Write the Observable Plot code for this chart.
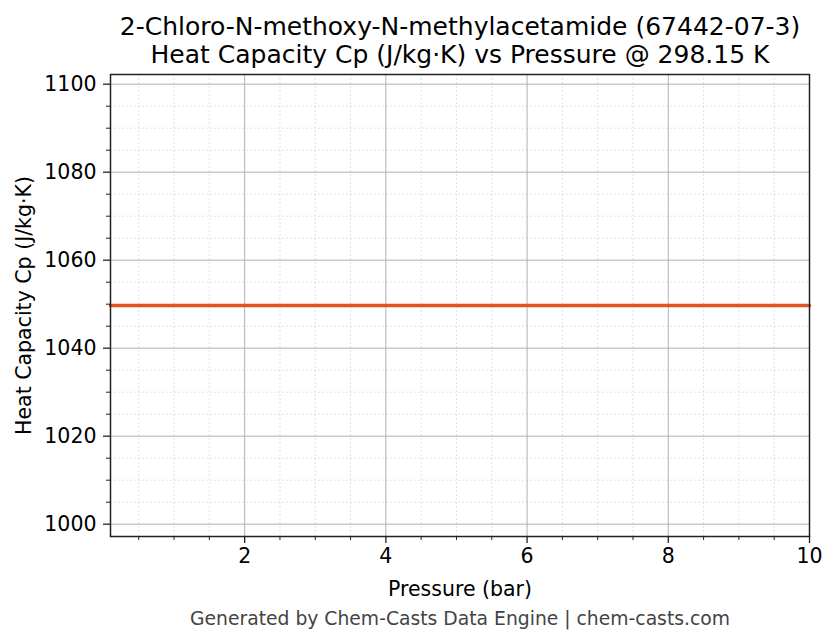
<!DOCTYPE html>
<html>
<head>
<meta charset="utf-8">
<script src="https://cdn.jsdelivr.net/npm/d3@7"></script>
<script src="https://cdn.jsdelivr.net/npm/@observablehq/plot@0.6"></script>
<style>
  html, body { margin: 0; padding: 0; background: #fff; }
  body { width: 836px; height: 644px; overflow: hidden; font-family: "DejaVu Sans", sans-serif; }
  #title { height: 64px; overflow: visible; box-sizing: border-box; padding-top: 13px; padding-left: 84px; text-align: center;
           font-size: 25px; line-height: 28px; color: #000; white-space: nowrap; }
  #caption { height: 40px; box-sizing: border-box; padding-left: 84px; text-align: center;
             font-size: 18.75px; line-height: 30px; color: #444; white-space: nowrap; }
  #chart svg { display: block; }
</style>
</head>
<body>
<div id="title">2-Chloro-N-methoxy-N-methylacetamide (67442-07-3)<br>Heat Capacity Cp (J/kg·K) vs Pressure @ 298.15 K</div>
<div id="chart"></div>
<div id="caption">Generated by Chem-Casts Data Engine | chem-casts.com</div>
<script>
const pressure = [0.1, 1, 2, 3, 4, 5, 6, 7, 8, 9, 10];
const heatCapacity = [1049.7, 1049.7, 1049.7, 1049.7, 1049.7, 1049.7, 1049.7, 1049.7, 1049.7, 1049.7, 1049.7];
const xMajorTicks = [2, 4, 6, 8, 10];
const xMinorTicks = [0.5, 1, 1.5, 2.5, 3, 3.5, 4.5, 5, 5.5, 6.5, 7, 7.5, 8.5, 9, 9.5];
const yMajorTicks = [1000, 1020, 1040, 1060, 1080, 1100];
const yMinorTicks = [1005, 1010, 1015, 1025, 1030, 1035, 1045, 1050, 1055, 1065, 1070, 1075, 1085, 1090, 1095];
const xDomain = [0.1, 10];
const yDomain = [997.2, 1102.2];

const data = pressure.map((p, i) => ({p, cp: heatCapacity[i]}));

const chart = Plot.plot({
  width: 836,
  height: 540,
  marginLeft: 110,
  marginRight: 27,
  marginTop: 10,
  marginBottom: 68,
  style: {fontFamily: "DejaVu Sans", fontSize: "20.5px", background: "#fff", color: "#000", overflow: "visible"},
  x: {domain: xDomain},
  y: {domain: yDomain},
  marks: [
    Plot.gridX(xMinorTicks, {stroke: "#cccccc", strokeOpacity: 1, strokeWidth: 0.6, strokeDasharray: "2,2"}),
    Plot.gridY(yMinorTicks, {stroke: "#cccccc", strokeOpacity: 1, strokeWidth: 0.6, strokeDasharray: "2,2"}),
    Plot.gridX(xMajorTicks, {stroke: "#b0b0b0", strokeOpacity: 1, strokeWidth: 1}),
    Plot.gridY(yMajorTicks, {stroke: "#b0b0b0", strokeOpacity: 1, strokeWidth: 1}),
    Plot.lineY(data, {x: "p", y: "cp", stroke: "#e0531f", strokeWidth: 3.5}),
    Plot.frame({stroke: "#222", strokeWidth: 1.5}),
    Plot.axisX(xMajorTicks, {anchor: "bottom", tickSize: 7, tickPadding: 5, stroke: "#222", strokeWidth: 1.3,
      tickFormat: d3.format("d"),
      label: "Pressure (bar)", labelAnchor: "center", labelArrow: "none", labelOffset: 59}),
    Plot.axisX(xMinorTicks, {anchor: "bottom", tickSize: 4, stroke: "#222", strokeWidth: 1, text: null, label: null}),
    Plot.axisY(yMajorTicks, {anchor: "left", tickSize: 7, tickPadding: 7, stroke: "#222", strokeWidth: 1.3,
      tickFormat: d3.format("d"),
      label: "Heat Capacity Cp (J/kg·K)", labelAnchor: "center", labelArrow: "none", labelOffset: 94}),
    Plot.axisY(yMinorTicks, {anchor: "left", tickSize: 4, stroke: "#222", strokeWidth: 1, text: null, label: null})
  ]
});
document.getElementById("chart").appendChild(chart);
</script>
</body>
</html>
